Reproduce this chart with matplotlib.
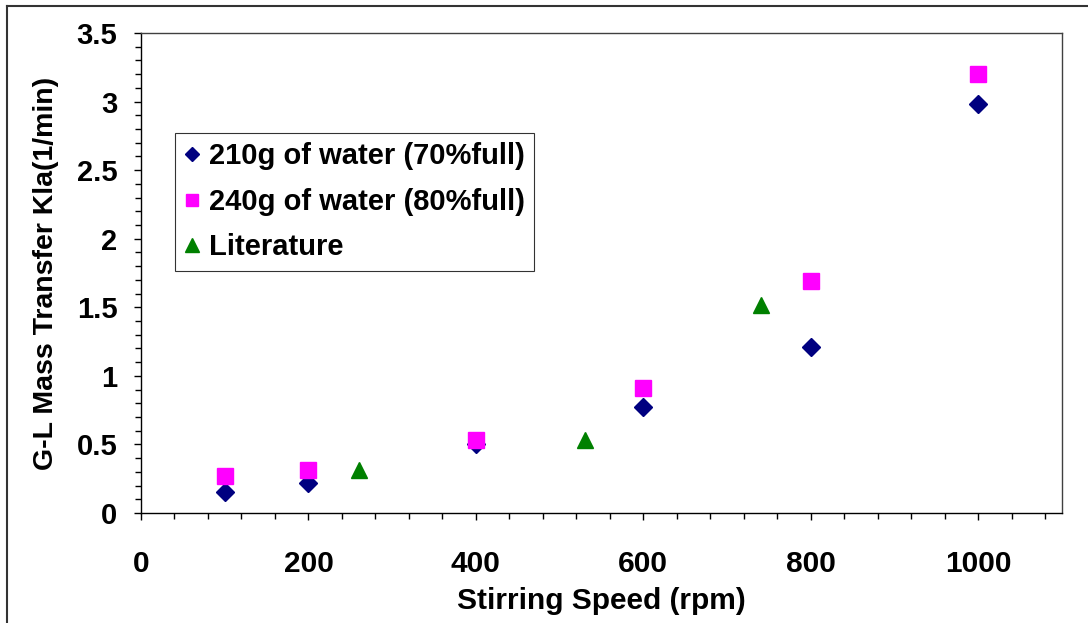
import matplotlib
matplotlib.use("Agg")
import matplotlib.pyplot as plt
from matplotlib.lines import Line2D
from matplotlib.ticker import MultipleLocator

plt.rcParams['font.family'] = ['Liberation Sans', 'DejaVu Sans']
plt.rcParams['font.weight'] = 'bold'

# Stirring speed (rpm) and kLa (1/min)
speed_70 = [100, 200, 400, 600, 800, 1000]
kla_70 = [0.15, 0.22, 0.50, 0.77, 1.21, 2.98]

speed_80 = [100, 200, 400, 600, 800, 1000]
kla_80 = [0.27, 0.31, 0.53, 0.91, 1.69, 3.20]

speed_lit = [260, 530, 740]
kla_lit = [0.31, 0.53, 1.52]

labels = ['210g of water (70%full)', '240g of water (80%full)', 'Literature']

W, H = 1088, 623
fig = plt.figure(figsize=(W / 100, H / 100), dpi=100)
ax = fig.add_axes([141 / W, 1 - 513 / H, (1062 - 141) / W, (513 - 33) / H])

ax.plot(speed_70, kla_70, linestyle='none', marker='D', ms=8.8,
        color='#000080', label=labels[0])
ax.plot(speed_80, kla_80, linestyle='none', marker='s', ms=11.5,
        color='#FF00FF', label=labels[1])
ax.plot(speed_lit, kla_lit, linestyle='none', marker='^', ms=12,
        color='#008000', label=labels[2])

ax.set_xlim(0, 1100)
ax.set_ylim(0, 3.5)
ax.xaxis.set_minor_locator(MultipleLocator(40))
ax.yaxis.set_minor_locator(MultipleLocator(0.1))
ax.set_xticks([0, 200, 400, 600, 800, 1000])
ax.set_xticklabels(['0', '200', '400', '600', '800', '1000'])
ax.set_yticks([0, 0.5, 1, 1.5, 2, 2.5, 3, 3.5])
ax.set_yticklabels(['0', '0.5', '1', '1.5', '2', '2.5', '3', '3.5'])

ax.tick_params(axis='x', which='both', direction='out', length=5, width=1,
               pad=22, labelsize=21.5)
ax.tick_params(axis='y', which='both', direction='out', length=5, width=1,
               pad=12, labelsize=21)
ax.tick_params(which='minor', length=4)

for sp in ax.spines.values():
    sp.set_linewidth(1.0)
ax.spines['right'].set_color('#404040')
ax.spines['top'].set_color('#404040')

ax.set_xlabel('Stirring Speed (rpm)', fontsize=21.5, fontweight='bold', labelpad=6)
ax.set_ylabel('G-L Mass Transfer Kla(1/min)', fontsize=20.5, fontweight='bold',
              labelpad=13)

leg = ax.legend(loc='upper left', bbox_to_anchor=((175 - 141) / (1062 - 141),
                                                   (513 - 133) / (513 - 33)),
                fontsize=21, frameon=True, fancybox=False, edgecolor='black',
                borderpad=0.32, labelspacing=0.6, handlelength=0.55,
                handletextpad=0.3, borderaxespad=0, markerscale=0.8)
leg.get_frame().set_linewidth(0.8)

# outer chart frame (top and left edges)
fig.add_artist(Line2D([7 / W, 7 / W], [0, 1 - 6 / H], transform=fig.transFigure,
                      color='#333333', lw=1.5))
fig.add_artist(Line2D([7 / W, 1], [1 - 6 / H, 1 - 6 / H], transform=fig.transFigure,
                      color='#333333', lw=1.5))

fig.savefig('out.png', dpi=100)
